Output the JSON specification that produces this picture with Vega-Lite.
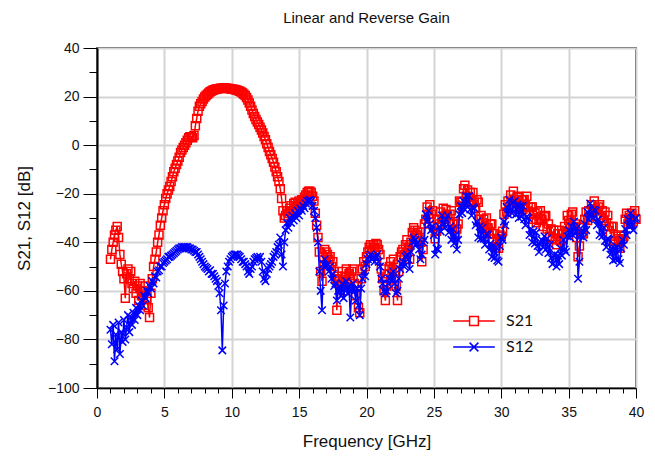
{
"$schema": "https://vega.github.io/schema/vega-lite/v6.json",
"width": 539, "height": 340,
"autosize": {"type": "none"},
"padding": {"left": 97, "top": 48, "right": 19, "bottom": 73},
"background": "white",
"config": {"view": {"stroke": "#000", "strokeWidth": 1.5}, "font": "Liberation Sans"},
"title": {"text": "Linear and Reverse Gain", "font": "Liberation Sans", "fontSize": 15, "fontWeight": "normal", "color": "#111", "anchor": "middle", "offset": 15},
"data": {"values": [
{"f":1.0,"S21":-47,"S12":-76},{"f":1.1,"S21":-43,"S12":-82},{"f":1.2,"S21":-40,"S12":-74},{"f":1.3,"S21":-37,"S12":-89},{"f":1.4,"S21":-35,"S12":-78},
{"f":1.5,"S21":-33.5,"S12":-84},{"f":1.6,"S21":-38,"S12":-73},{"f":1.7,"S21":-45,"S12":-86},{"f":1.8,"S21":-49,"S12":-77},{"f":1.9,"S21":-52,"S12":-81},
{"f":2.0,"S21":-55,"S12":-72},{"f":2.1,"S21":-63,"S12":-80},{"f":2.2,"S21":-53,"S12":-75},{"f":2.3,"S21":-51,"S12":-70},{"f":2.4,"S21":-55,"S12":-77},
{"f":2.5,"S21":-52,"S12":-71},{"f":2.6,"S21":-57,"S12":-74},{"f":2.7,"S21":-59,"S12":-69},{"f":2.8,"S21":-56,"S12":-72},{"f":2.9,"S21":-61,"S12":-67},
{"f":3.0,"S21":-58,"S12":-70},{"f":3.1,"S21":-64,"S12":-66},{"f":3.2,"S21":-57,"S12":-68},{"f":3.3,"S21":-62,"S12":-64},{"f":3.4,"S21":-60,"S12":-66},
{"f":3.5,"S21":-66,"S12":-62},{"f":3.6,"S21":-58,"S12":-63},{"f":3.7,"S21":-63,"S12":-60},{"f":3.8,"S21":-67,"S12":-61},{"f":3.9,"S21":-71,"S12":-58},
{"f":4.0,"S21":-61,"S12":-59},{"f":4.1,"S21":-55,"S12":-56},{"f":4.2,"S21":-50,"S12":-57},{"f":4.3,"S21":-47,"S12":-54},{"f":4.4,"S21":-44,"S12":-54.5},
{"f":4.5,"S21":-40,"S12":-52},{"f":4.6,"S21":-37,"S12":-51.5},{"f":4.7,"S21":-33,"S12":-50},{"f":4.8,"S21":-30,"S12":-50},{"f":4.9,"S21":-27,"S12":-48.5},
{"f":5.0,"S21":-24.5,"S12":-48},{"f":5.1,"S21":-22,"S12":-47.5},{"f":5.2,"S21":-20,"S12":-47},{"f":5.3,"S21":-18.5,"S12":-46},{"f":5.4,"S21":-17,"S12":-46},
{"f":5.5,"S21":-15,"S12":-45.5},{"f":5.6,"S21":-13,"S12":-45},{"f":5.7,"S21":-11,"S12":-44.5},{"f":5.8,"S21":-9.5,"S12":-44},{"f":5.9,"S21":-8,"S12":-43.5},
{"f":6.0,"S21":-6.5,"S12":-43},{"f":6.1,"S21":-5,"S12":-42.5},{"f":6.2,"S21":-3,"S12":-42.5},{"f":6.3,"S21":-2,"S12":-42},{"f":6.4,"S21":-1,"S12":-42},
{"f":6.5,"S21":0,"S12":-42},{"f":6.6,"S21":1,"S12":-42},{"f":6.7,"S21":2,"S12":-42},{"f":6.8,"S21":3,"S12":-42.5},{"f":6.9,"S21":3.5,"S12":-42.5},
{"f":7.0,"S21":3.5,"S12":-43},{"f":7.1,"S21":3,"S12":-43},{"f":7.2,"S21":4,"S12":-43.5},{"f":7.3,"S21":8,"S12":-44},{"f":7.4,"S21":11,"S12":-44},
{"f":7.5,"S21":14,"S12":-45},{"f":7.6,"S21":16,"S12":-46},{"f":7.7,"S21":17,"S12":-47},{"f":7.8,"S21":18,"S12":-48},{"f":7.9,"S21":19,"S12":-49},
{"f":8.0,"S21":19.8,"S12":-50},{"f":8.1,"S21":20.4,"S12":-50.5},{"f":8.2,"S21":21,"S12":-51},{"f":8.3,"S21":21.5,"S12":-52},{"f":8.4,"S21":22,"S12":-51.5},
{"f":8.5,"S21":22.3,"S12":-53},{"f":8.6,"S21":22.6,"S12":-53},{"f":8.7,"S21":22.8,"S12":-54},{"f":8.8,"S21":23,"S12":-55},{"f":8.9,"S21":23.1,"S12":-56},
{"f":9.0,"S21":23.2,"S12":-58},{"f":9.1,"S21":23.3,"S12":-61},{"f":9.2,"S21":23.4,"S12":-68},{"f":9.3,"S21":23.4,"S12":-84.5},{"f":9.4,"S21":23.5,"S12":-66},
{"f":9.5,"S21":23.5,"S12":-57},{"f":9.6,"S21":23.4,"S12":-52},{"f":9.7,"S21":23.3,"S12":-50},{"f":9.8,"S21":23.3,"S12":-48},{"f":9.9,"S21":23.2,"S12":-47},
{"f":10.0,"S21":23,"S12":-46},{"f":10.1,"S21":23,"S12":-45.5},{"f":10.2,"S21":22.9,"S12":-45},{"f":10.3,"S21":22.8,"S12":-45},{"f":10.4,"S21":22.6,"S12":-45},
{"f":10.5,"S21":22.4,"S12":-45.5},{"f":10.6,"S21":22.2,"S12":-46},{"f":10.7,"S21":21.9,"S12":-47},{"f":10.8,"S21":21.5,"S12":-48},{"f":10.9,"S21":21,"S12":-48},
{"f":11.0,"S21":20.4,"S12":-49},{"f":11.1,"S21":19.6,"S12":-50},{"f":11.2,"S21":18.6,"S12":-52},{"f":11.3,"S21":17.4,"S12":-53},{"f":11.4,"S21":16,"S12":-51},
{"f":11.5,"S21":14.5,"S12":-50},{"f":11.6,"S21":13,"S12":-48},{"f":11.7,"S21":11.8,"S12":-47},{"f":11.8,"S21":10.6,"S12":-46.5},{"f":11.9,"S21":9.5,"S12":-46},
{"f":12.0,"S21":8.5,"S12":-47},{"f":12.1,"S21":7.4,"S12":-46},{"f":12.2,"S21":6.2,"S12":-48},{"f":12.3,"S21":5,"S12":-52},{"f":12.4,"S21":3.6,"S12":-55},
{"f":12.5,"S21":2.2,"S12":-56},{"f":12.6,"S21":0.6,"S12":-53},{"f":12.7,"S21":-1,"S12":-51},{"f":12.8,"S21":-2.6,"S12":-50},{"f":12.9,"S21":-4,"S12":-49},
{"f":13.0,"S21":-5.5,"S12":-48},{"f":13.1,"S21":-7,"S12":-46},{"f":13.2,"S21":-9,"S12":-45},{"f":13.3,"S21":-11,"S12":-44},{"f":13.4,"S21":-13,"S12":-42},
{"f":13.5,"S21":-15,"S12":-41},{"f":13.6,"S21":-18,"S12":-38},{"f":13.7,"S21":-22,"S12":-45},{"f":13.8,"S21":-27,"S12":-50},{"f":13.9,"S21":-30,"S12":-40},
{"f":14.0,"S21":-29,"S12":-35},{"f":14.1,"S21":-27,"S12":-32},{"f":14.2,"S21":-28,"S12":-34},{"f":14.3,"S21":-26,"S12":-30},{"f":14.4,"S21":-25,"S12":-32},
{"f":14.5,"S21":-27,"S12":-29},{"f":14.6,"S21":-24,"S12":-31},{"f":14.7,"S21":-23.5,"S12":-28},{"f":14.8,"S21":-25,"S12":-30},{"f":14.9,"S21":-24,"S12":-27},
{"f":15.0,"S21":-23,"S12":-29},{"f":15.1,"S21":-24.5,"S12":-26},{"f":15.2,"S21":-22.5,"S12":-27},{"f":15.3,"S21":-23,"S12":-25},{"f":15.4,"S21":-21.5,"S12":-26},
{"f":15.5,"S21":-20.5,"S12":-24},{"f":15.6,"S21":-19.5,"S12":-23},{"f":15.7,"S21":-19,"S12":-23},{"f":15.8,"S21":-19,"S12":-22.5},{"f":15.9,"S21":-19.5,"S12":-23},
{"f":16.0,"S21":-21,"S12":-25},{"f":16.1,"S21":-23,"S12":-27},{"f":16.2,"S21":-28,"S12":-30},{"f":16.3,"S21":-33,"S12":-34},{"f":16.4,"S21":-38,"S12":-40},
{"f":16.5,"S21":-44,"S12":-52},{"f":16.6,"S21":-52,"S12":-60},{"f":16.7,"S21":-56,"S12":-68},{"f":16.8,"S21":-46,"S12":-49},{"f":16.9,"S21":-43,"S12":-47},
{"f":17.0,"S21":-44,"S12":-50},{"f":17.1,"S21":-45,"S12":-49},{"f":17.2,"S21":-47,"S12":-52},{"f":17.3,"S21":-46,"S12":-50},{"f":17.4,"S21":-50,"S12":-55},
{"f":17.5,"S21":-48,"S12":-53},{"f":17.6,"S21":-52,"S12":-58},{"f":17.7,"S21":-55,"S12":-57},{"f":17.8,"S21":-68,"S12":-64},{"f":17.9,"S21":-54,"S12":-60},
{"f":18.0,"S21":-56,"S12":-58},{"f":18.1,"S21":-58,"S12":-62},{"f":18.2,"S21":-52,"S12":-57},{"f":18.3,"S21":-60,"S12":-63},{"f":18.4,"S21":-54,"S12":-59},
{"f":18.5,"S21":-51,"S12":-56},{"f":18.6,"S21":-57,"S12":-61},{"f":18.7,"S21":-53,"S12":-58},{"f":18.8,"S21":-55,"S12":-71},{"f":18.9,"S21":-52,"S12":-60},
{"f":19.0,"S21":-51,"S12":-57},{"f":19.1,"S21":-57,"S12":-60},{"f":19.2,"S21":-62,"S12":-64},{"f":19.3,"S21":-58,"S12":-59},{"f":19.4,"S21":-67,"S12":-66},
{"f":19.5,"S21":-69,"S12":-70},{"f":19.6,"S21":-55,"S12":-59},{"f":19.7,"S21":-51,"S12":-55},{"f":19.8,"S21":-48,"S12":-52},{"f":19.9,"S21":-50,"S12":-54},
{"f":20.0,"S21":-46,"S12":-49},{"f":20.1,"S21":-44,"S12":-47},{"f":20.2,"S21":-42,"S12":-46},{"f":20.3,"S21":-41,"S12":-45},{"f":20.4,"S21":-43,"S12":-47},
{"f":20.5,"S21":-41,"S12":-46},{"f":20.6,"S21":-42,"S12":-48},{"f":20.7,"S21":-40.5,"S12":-46},{"f":20.8,"S21":-41,"S12":-45},{"f":20.9,"S21":-43,"S12":-48},
{"f":21.0,"S21":-45,"S12":-50},{"f":21.1,"S21":-51,"S12":-55},{"f":21.2,"S21":-55,"S12":-57},{"f":21.3,"S21":-60,"S12":-60},{"f":21.4,"S21":-64,"S12":-61},
{"f":21.5,"S21":-58,"S12":-60},{"f":21.6,"S21":-53,"S12":-57},{"f":21.7,"S21":-50,"S12":-55},{"f":21.8,"S21":-48,"S12":-53},{"f":21.9,"S21":-51,"S12":-56},
{"f":22.0,"S21":-47,"S12":-52},{"f":22.1,"S21":-52,"S12":-57},{"f":22.2,"S21":-58,"S12":-61},{"f":22.3,"S21":-64,"S12":-60},{"f":22.4,"S21":-52,"S12":-55},
{"f":22.5,"S21":-46,"S12":-51},{"f":22.6,"S21":-44,"S12":-49},{"f":22.7,"S21":-43,"S12":-48},{"f":22.8,"S21":-45,"S12":-50},{"f":22.9,"S21":-41,"S12":-46},
{"f":23.0,"S21":-39,"S12":-45},{"f":23.1,"S21":-42,"S12":-47},{"f":23.2,"S21":-47,"S12":-51},{"f":23.3,"S21":-40,"S12":-44},{"f":23.4,"S21":-36,"S12":-40},
{"f":23.5,"S21":-34,"S12":-38},{"f":23.6,"S21":-35,"S12":-39},{"f":23.7,"S21":-37,"S12":-41},{"f":23.8,"S21":-36,"S12":-40},{"f":23.9,"S21":-38,"S12":-43},
{"f":24.0,"S21":-40,"S12":-47},{"f":24.1,"S21":-48,"S12":-45},{"f":24.2,"S21":-43,"S12":-40},{"f":24.3,"S21":-32.5,"S12":-39},{"f":24.4,"S21":-30.5,"S12":-28.5},
{"f":24.5,"S21":-25.5,"S12":-31.5},{"f":24.6,"S21":-28.5,"S12":-27},{"f":24.7,"S21":-24.5,"S12":-32.5},{"f":24.8,"S21":-28.5,"S12":-35},{"f":24.9,"S21":-27,"S12":-33.5},
{"f":25.0,"S21":-33.5,"S12":-37},{"f":25.1,"S21":-38.5,"S12":-45},{"f":25.2,"S21":-35.5,"S12":-42.5},{"f":25.3,"S21":-30.5,"S12":-43},{"f":25.4,"S21":-32.5,"S12":-33.5},
{"f":25.5,"S21":-27.5,"S12":-35.5},{"f":25.6,"S21":-30.5,"S12":-29},{"f":25.7,"S21":-26,"S12":-32.5},{"f":25.8,"S21":-29.5,"S12":-34},{"f":25.9,"S21":-26.5,"S12":-30.5},
{"f":26.0,"S21":-29,"S12":-29},{"f":26.1,"S21":-31.5,"S12":-36},{"f":26.2,"S21":-28.5,"S12":-33.5},{"f":26.3,"S21":-27,"S12":-39},{"f":26.4,"S21":-32.5,"S12":-34.5},
{"f":26.5,"S21":-31.5,"S12":-40.5},{"f":26.6,"S21":-37,"S12":-37},{"f":26.7,"S21":-34.5,"S12":-43},{"f":26.8,"S21":-32.5,"S12":-39},{"f":26.9,"S21":-23,"S12":-28.5},
{"f":27.0,"S21":-23.5,"S12":-25},{"f":27.1,"S21":-23.5,"S12":-28},{"f":27.2,"S21":-18,"S12":-23},{"f":27.3,"S21":-16.5,"S12":-26.5},{"f":27.4,"S21":-21,"S12":-21},
{"f":27.5,"S21":-18.5,"S12":-25.5},{"f":27.6,"S21":-23,"S12":-21},{"f":27.7,"S21":-19.5,"S12":-26.5},{"f":27.8,"S21":-23.5,"S12":-29},{"f":27.9,"S21":-19.5,"S12":-25.5},
{"f":28.0,"S21":-23.5,"S12":-26},{"f":28.1,"S21":-26,"S12":-33},{"f":28.2,"S21":-22.5,"S12":-31.5},{"f":28.3,"S21":-23.5,"S12":-38},{"f":28.4,"S21":-30.5,"S12":-33.5},
{"f":28.5,"S21":-29,"S12":-38.5},{"f":28.6,"S21":-34,"S12":-34},{"f":28.7,"S21":-30.5,"S12":-38.5},{"f":28.8,"S21":-34.5,"S12":-41},{"f":28.9,"S21":-30,"S12":-36.5},
{"f":29.0,"S21":-34,"S12":-37},{"f":29.1,"S21":-36.5,"S12":-43},{"f":29.2,"S21":-32.5,"S12":-40.5},{"f":29.3,"S21":-32.5,"S12":-46},{"f":29.4,"S21":-38.5,"S12":-41.5},
{"f":29.5,"S21":-36.5,"S12":-46.5},{"f":29.6,"S21":-42,"S12":-42},{"f":29.7,"S21":-38.5,"S12":-47.5},{"f":29.8,"S21":-42.5,"S12":-48},{"f":29.9,"S21":-37,"S12":-41.5},
{"f":30.0,"S21":-37.5,"S12":-38},{"f":30.1,"S21":-35.5,"S12":-39},{"f":30.2,"S21":-28.5,"S12":-31.5},{"f":30.3,"S21":-24.5,"S12":-33},{"f":30.4,"S21":-27.5,"S12":-25.5},
{"f":30.5,"S21":-23,"S12":-28.5},{"f":30.6,"S21":-25.5,"S12":-22.5},{"f":30.7,"S21":-20.5,"S12":-26.5},{"f":30.8,"S21":-23.5,"S12":-28},{"f":30.9,"S21":-19,"S12":-23.5},
{"f":31.0,"S21":-23,"S12":-23},{"f":31.1,"S21":-25.5,"S12":-28.5},{"f":31.2,"S21":-21.5,"S12":-24.5},{"f":31.3,"S21":-21,"S12":-30},{"f":31.4,"S21":-25.5,"S12":-25},
{"f":31.5,"S21":-22.5,"S12":-29.5},{"f":31.6,"S21":-26.5,"S12":-25},{"f":31.7,"S21":-22.5,"S12":-30.5},{"f":31.8,"S21":-25,"S12":-33},{"f":31.9,"S21":-21,"S12":-29.5},
{"f":32.0,"S21":-25.5,"S12":-30},{"f":32.1,"S21":-28.5,"S12":-37},{"f":32.2,"S21":-25.5,"S12":-34.5},{"f":32.3,"S21":-25.5,"S12":-40},{"f":32.4,"S21":-30.5,"S12":-35.5},
{"f":32.5,"S21":-28,"S12":-40.5},{"f":32.6,"S21":-32,"S12":-36},{"f":32.7,"S21":-27.5,"S12":-41.5},{"f":32.8,"S21":-31,"S12":-44},{"f":32.9,"S21":-27,"S12":-40},
{"f":33.0,"S21":-30.5,"S12":-39},{"f":33.1,"S21":-33.5,"S12":-42},{"f":33.2,"S21":-29.5,"S12":-37.5},{"f":33.3,"S21":-29,"S12":-43},{"f":33.4,"S21":-34.5,"S12":-38.5},
{"f":33.5,"S21":-32.5,"S12":-44.5},{"f":33.6,"S21":-37.5,"S12":-41},{"f":33.7,"S21":-34.5,"S12":-46.5},{"f":33.8,"S21":-38.5,"S12":-49},{"f":33.9,"S21":-35,"S12":-45.5},
{"f":34.0,"S21":-39,"S12":-45},{"f":34.1,"S21":-41,"S12":-50},{"f":34.2,"S21":-36.5,"S12":-45.5},{"f":34.3,"S21":-35,"S12":-49},{"f":34.4,"S21":-39.5,"S12":-42.5},
{"f":34.5,"S21":-36.5,"S12":-45.5},{"f":34.6,"S21":-39,"S12":-39},{"f":34.7,"S21":-33.5,"S12":-43},{"f":34.8,"S21":-35.5,"S12":-44},{"f":34.9,"S21":-29,"S12":-37.5},
{"f":35.0,"S21":-31,"S12":-35},{"f":35.1,"S21":-32.5,"S12":-38},{"f":35.2,"S21":-28.5,"S12":-33.5},{"f":35.3,"S21":-27.5,"S12":-37},{"f":35.4,"S21":-33.5,"S12":-31.5},
{"f":35.5,"S21":-32.5,"S12":-36.5},{"f":35.6,"S21":-38,"S12":-34},{"f":35.7,"S21":-46,"S12":-55},{"f":35.8,"S21":-41.5,"S12":-48},{"f":35.9,"S21":-34,"S12":-37.5},
{"f":36.0,"S21":-36.5,"S12":-35},{"f":36.1,"S21":-36.5,"S12":-38},{"f":36.2,"S21":-30.5,"S12":-32.5},{"f":36.3,"S21":-27.5,"S12":-35},{"f":36.4,"S21":-31,"S12":-27.5},
{"f":36.5,"S21":-27,"S12":-30.5},{"f":36.6,"S21":-29.5,"S12":-24},{"f":36.7,"S21":-24.5,"S12":-28.5},{"f":36.8,"S21":-27.5,"S12":-30},{"f":36.9,"S21":-23,"S12":-26.5},
{"f":37.0,"S21":-27,"S12":-27},{"f":37.1,"S21":-29,"S12":-33},{"f":37.2,"S21":-25.5,"S12":-30.5},{"f":37.3,"S21":-24.5,"S12":-37},{"f":37.4,"S21":-30,"S12":-32.5},
{"f":37.5,"S21":-27,"S12":-37.5},{"f":37.6,"S21":-31,"S12":-34},{"f":37.7,"S21":-27.5,"S12":-39.5},{"f":37.8,"S21":-32,"S12":-42},{"f":37.9,"S21":-29,"S12":-38.5},
{"f":38.0,"S21":-33.5,"S12":-39},{"f":38.1,"S21":-36.5,"S12":-45},{"f":38.2,"S21":-33.5,"S12":-42.5},{"f":38.3,"S21":-33.5,"S12":-47.5},{"f":38.4,"S21":-39.5,"S12":-42.5},
{"f":38.5,"S21":-37.5,"S12":-47},{"f":38.6,"S21":-42,"S12":-42},{"f":38.7,"S21":-38.5,"S12":-47},{"f":38.8,"S21":-42.5,"S12":-48.5},{"f":38.9,"S21":-37,"S12":-42.5},
{"f":39.0,"S21":-38.5,"S12":-39},{"f":39.1,"S21":-37.5,"S12":-41},{"f":39.2,"S21":-30.5,"S12":-34.5},{"f":39.3,"S21":-28,"S12":-37},{"f":39.4,"S21":-32.5,"S12":-30.5},
{"f":39.5,"S21":-29,"S12":-33.5},{"f":39.6,"S21":-32.5,"S12":-28},{"f":39.7,"S21":-28,"S12":-33},{"f":39.8,"S21":-31.5,"S12":-35},{"f":39.9,"S21":-27,"S12":-30.5},
{"f":40.0,"S21":-30.5,"S12":-30}
]},
"transform": [{"fold": ["S21", "S12"], "as": ["series", "dB"]}],
"encoding": {
  "x": {"field": "f", "type": "quantitative",
    "scale": {"domain": [0, 40], "nice": false, "zero": false},
    "axis": {"title": "Frequency [GHz]", "values": [0,1,2,3,4,5,6,7,8,9,10,11,12,13,14,15,16,17,18,19,20,21,22,23,24,25,26,27,28,29,30,31,32,33,34,35,36,37,38,39,40],
      "labelExpr": "datum.value % 5 === 0 ? datum.label : ''", "labelOverlap": false, "labelFlush": false,
      "labelFont": "Liberation Sans", "labelFontSize": 14, "labelColor": "#111", "labelPadding": 7,
      "titleFont": "Liberation Sans", "titleFontSize": 17, "titleFontWeight": "normal", "titleColor": "#111", "titlePadding": 14,
      "domainColor": "#000", "domainWidth": 1.5, "tickColor": "#000", "tickWidth": 1,
      "tickSize": {"condition": {"test": "datum.value % 5 === 0", "value": 10}, "value": 5},
      "grid": true, "gridColor": "#d4d4d4", "gridWidth": 2,
      "gridOpacity": {"condition": {"test": "datum.value % 5 === 0", "value": 1}, "value": 0}}},
  "y": {"field": "dB", "type": "quantitative",
    "scale": {"domain": [-100, 40], "nice": false, "zero": false},
    "axis": {"title": "S21, S12 [dB]", "values": [-100,-90,-80,-70,-60,-50,-40,-30,-20,-10,0,10,20,30,40],
      "labelExpr": "datum.value % 20 === 0 ? datum.label : ''", "labelOverlap": false, "labelFlush": false,
      "labelFont": "Liberation Sans", "labelFontSize": 14, "labelColor": "#111", "labelPadding": 4,
      "titleFont": "Liberation Sans", "titleFontSize": 17, "titleFontWeight": "normal", "titleColor": "#111", "titlePadding": 14,
      "domainColor": "#000", "domainWidth": 2, "tickColor": "#000", "tickWidth": 1,
      "tickSize": {"condition": {"test": "datum.value % 20 === 0", "value": 14}, "value": 8},
      "grid": true, "gridColor": "#d4d4d4", "gridWidth": 2,
      "gridOpacity": {"condition": {"test": "datum.value % 20 === 0", "value": 1}, "value": 0}}}
},
"layer": [
  {"transform": [{"filter": "datum.series === 'S21'"}], "mark": {"type": "line", "color": "#ff0000", "strokeWidth": 1.5}, "encoding": {}},
  {"transform": [{"filter": "datum.series === 'S21'"}], "mark": {"type": "point", "shape": "square", "filled": false, "color": "#ff0000", "size": 64, "strokeWidth": 1.5, "opacity": 1}, "encoding": {}},
  {"transform": [{"filter": "datum.series === 'S12'"}], "mark": {"type": "line", "color": "#0000ff", "strokeWidth": 1.5}, "encoding": {}},
  {"transform": [{"filter": "datum.series === 'S12'"}], "mark": {"type": "point", "shape": "M-1,-1L1,1M-1,1L1,-1", "filled": false, "color": "#0000ff", "size": 56, "strokeWidth": 1.5, "opacity": 1}, "encoding": {}},
  {"transform": [{"filter": "false"}], "mark": {"type": "point", "filled": false, "opacity": 1, "strokeWidth": 1.5},
   "encoding": {
     "color": {"field": "series", "type": "nominal", "scale": {"domain": ["S21", "S12"], "range": ["#ff0000", "#0000ff"]},
       "legend": {"title": null, "orient": "none", "legendX": 368, "legendY": 264, "symbolSize": 256, "symbolStrokeWidth": 1.5,
         "labelFont": "Lato", "labelFontSize": 16, "labelColor": "#111", "labelOffset": 23, "rowPadding": 9, "padding": 0}},
     "shape": {"field": "series", "type": "nominal", "scale": {"domain": ["S21", "S12"], "range": ["M-2.6,0H-0.55M0.55,0H2.6M-0.55,-0.55H0.55V0.55H-0.55Z", "M-2.6,0H2.6M-0.55,-0.55L0.55,0.55M-0.55,0.55L0.55,-0.55"]},
       "legend": {"title": null, "orient": "none", "legendX": 368, "legendY": 264, "symbolSize": 256, "symbolStrokeWidth": 1.5,
         "labelFont": "Lato", "labelFontSize": 16, "labelColor": "#111", "labelOffset": 23, "rowPadding": 9, "padding": 0}}
   }}
]
}
